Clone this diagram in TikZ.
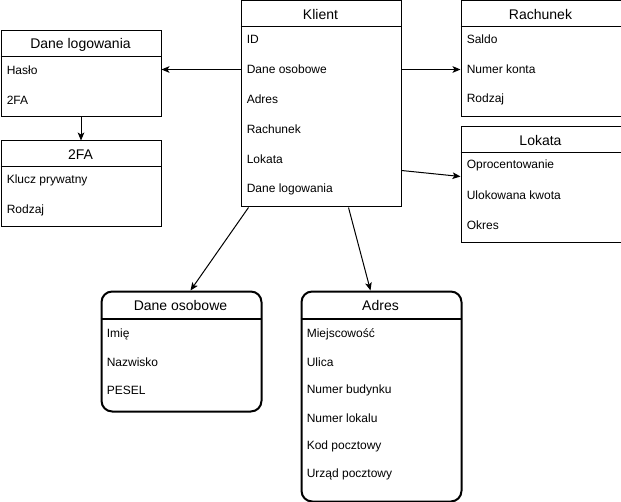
\documentclass[tikz,border=0pt]{standalone}
\usepackage{fontspec}
\setmainfont{Liberation Sans}
\usepackage{tikz}
\usetikzlibrary{arrows.meta, positioning}

\begin{document}
\begin{tikzpicture}[x=0.75pt, y=-0.75pt, >={Stealth[length=6pt, width=5pt, inset=1.5pt]},
  entity/.style={draw, line width=0.75pt, anchor=north west, minimum width=120pt, inner sep=0pt},
  roundentity/.style={entity, line width=1.5pt, rounded corners=8pt},
  title/.style={font=\fontsize{10.5}{12}\selectfont, inner sep=0pt},
  field/.style={font=\fontsize{9}{11}\selectfont, anchor=west, inner sep=0pt},
  link/.style={->, line width=0.75pt}]
  \useasboundingbox (-0.5,-0.5) rectangle (620.5,501.5);

  % Boxes
  \node[entity, minimum height=154.5pt] (klient)   at (240,0)   {};
  \node[entity, minimum height=87pt]    (rachunek) at (460,0)   {};
  \node[entity, minimum height=87pt]    (lokata)   at (460,126) {};
  \node[entity, minimum height=64.5pt]  (logowanie) at (0,30)   {};
  \node[entity, minimum height=64.5pt]  (tfa)      at (0,140)   {};
  \node[roundentity, minimum height=90pt]  (osobowe) at (100,290) {};
  \node[roundentity, minimum height=157.5pt] (adres) at (300,290) {};

  % Title bars
  \draw[line width=0.75pt] (240,26) -- (400,26);
  \draw[line width=0.75pt] (460,26) -- (620,26);
  \draw[line width=0.75pt] (460,152) -- (620,152);
  \draw[line width=0.75pt] (0,56) -- (160,56);
  \draw[line width=0.75pt] (0,166) -- (160,166);
  \draw[line width=1.5pt] (100,318) -- (260,318);
  \draw[line width=1.5pt] (300,318) -- (460,318);

  % Titles
  \node[title] (tKlient)   at (320,14)  {Klient};
  \node[title] (tRachunek) at (540,14)  {Rachunek};
  \node[title] (tLokata)   at (540,140) {Lokata};
  \node[title] (tLog)      at (80,44)   {Dane logowania};
  \node[title] (tTfa)      at (80,154)  {2FA};
  \node[title] (tOsobowe)  at (180,305) {Dane osobowe};
  \node[title] (tAdres)    at (380,305) {Adres};

  % Klient fields
  \node[field] (kId)      at (246,39)  {ID};
  \node[field] (kDane)    at (246,69)  {Dane osobowe};
  \node[field] (kAdres)   at (246,99)  {Adres};
  \node[field] (kRach)    at (246,129) {Rachunek};
  \node[field] (kLokata)  at (246,159) {Lokata};
  \node[field] (kLog)     at (246,189) {Dane logowania};

  % Rachunek fields
  \node[field] (rSaldo)   at (466,39) {Saldo};
  \node[field] (rNumer)   at (466,69) {Numer konta};
  \node[field] (rRodzaj)  at (466,99) {Rodzaj};

  % Lokata fields
  \node[field] (lOproc)   at (466,165) {Oprocentowanie};
  \node[field] (lKwota)   at (466,195) {Ulokowana kwota};
  \node[field] (lOkres)   at (466,225) {Okres};

  % Dane logowania fields
  \node[field] (gHaslo)   at (6,70)  {Hasło};
  \node[field] (gTfa)     at (6,100) {2FA};

  % 2FA fields
  \node[field] (fKlucz)   at (6,180) {Klucz prywatny};
  \node[field] (fRodzaj)  at (6,210) {Rodzaj};

  % Dane osobowe fields
  \node[field] (oImie)    at (106,334) {Imię};
  \node[field] (oNazw)    at (106,362) {Nazwisko};
  \node[field] (oPesel)   at (106,390) {PESEL};

  % Adres fields
  \node[field] (aMiejsc)  at (306,334) {Miejscowość};
  \node[field] (aUlica)   at (306,362) {Ulica};
  \node[field] (aBud)     at (306,390) {Numer budynku};
  \node[field] (aLokal)   at (306,418) {Numer lokalu};
  \node[field] (aKod)     at (306,446) {Kod pocztowy};
  \node[field] (aUrzad)   at (306,474) {Urząd pocztowy};

  % Relations
  \draw[link] (kDane -| klient.west) -- (kDane -| logowanie.east);
  \draw[link] (logowanie.south) -- (tfa.north);
  \draw[link] (kDane -| klient.east) -- (rNumer -| rachunek.west);
  \draw[link] ([yshift=-8.25pt]kLokata -| klient.east) -- ([yshift=-8.25pt]lOproc -| lokata.west);
  \draw[link] ([xshift=6pt]klient.south west) -- ([xshift=67.5pt]osobowe.north west);
  \draw[link] ([xshift=81pt]klient.south west) -- ([xshift=52.5pt]adres.north west);

\end{tikzpicture}
\end{document}
